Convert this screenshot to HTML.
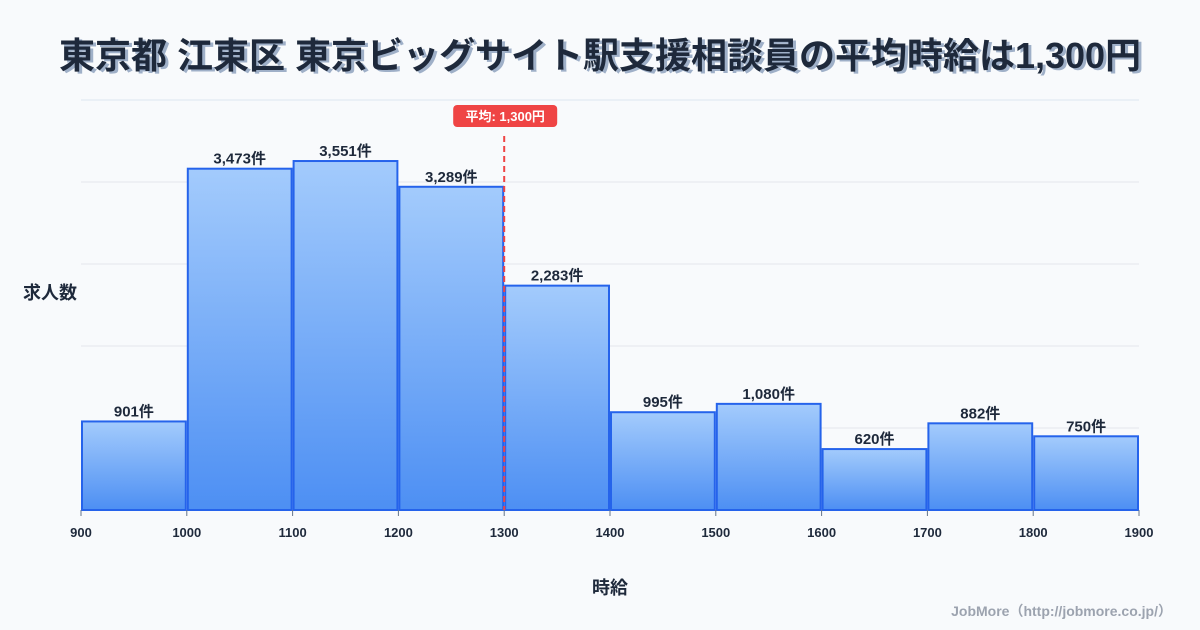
<!DOCTYPE html>
<html><head><meta charset="utf-8">
<style>
html,body{margin:0;padding:0;background:#f8fafc;}
svg{display:block;font-family:"Liberation Sans","Noto Sans CJK JP",sans-serif;}
</style></head>
<body>
<svg id="chart" width="1200" height="630" viewBox="0 0 1200 630" xmlns="http://www.w3.org/2000/svg">
<defs>
<linearGradient id="barGrad" x1="0" y1="0" x2="0" y2="1">
<stop offset="0" stop-color="#a3cbfc"/>
<stop offset="1" stop-color="#4d8ff3"/>
</linearGradient>
</defs>
<rect width="1200" height="630" fill="#f8fafc"/>
<text x="603" y="70" text-anchor="middle" font-size="36" font-weight="bold" fill="#9fb0c8">東京都 江東区 東京ビッグサイト駅支援相談員の平均時給は1,300円</text>
<text x="600" y="68" text-anchor="middle" font-size="36" font-weight="bold" fill="#1e293b">東京都 江東区 東京ビッグサイト駅支援相談員の平均時給は1,300円</text>
<text x="50" y="299" text-anchor="middle" font-size="18" font-weight="bold" fill="#1e293b">求人数</text>
<text x="610" y="594" text-anchor="middle" font-size="18" font-weight="bold" fill="#1e293b">時給</text>
<text x="1172" y="616" text-anchor="end" font-size="14" font-weight="bold" fill="#9ca3af">JobMore（http://jobmore.co.jp/）</text>
<g id="grid"></g><g id="bars"></g><g id="ticks"></g><g id="mean"></g>
</svg>
<script>
const binStarts = [900,1000,1100,1200,1300,1400,1500,1600,1700,1800];
const counts = [901,3473,3551,3289,2283,995,1080,620,882,750];
const tickLabels = ["900","1000","1100","1200","1300","1400","1500","1600","1700","1800","1900"];
const meanValue = 1300;
const meanLabel = "平均: 1,300円";
const yMax = 4172;
const gridCount = 5;

const NS = "http://www.w3.org/2000/svg";
const L = 81, R = 1139, T = 100, B = 510;
const xMin = 900, xMaxV = 1900;
const xs = v => L + (v - xMin) / (xMaxV - xMin) * (R - L);
const ys = v => B - v / yMax * (B - T);
function mk(tag, attrs, parent){const e=document.createElementNS(NS,tag);for(const k in attrs)e.setAttribute(k,attrs[k]);parent.appendChild(e);return e;}
const grid=document.getElementById('grid'),bars=document.getElementById('bars'),ticks=document.getElementById('ticks'),mean=document.getElementById('mean');

for(let i=1;i<=gridCount;i++){
  const y=ys(yMax*i/gridCount);
  const g=mk('line',{x1:L,x2:R,y1:y,y2:y,stroke:i===gridCount?'#dbe5ef':'#e5e7eb','stroke-width':1},grid);
  
  
}
const base=mk('line',{x1:L,x2:R,y1:B,y2:B,stroke:'#cbd5e1','stroke-width':1},grid);



counts.forEach((c,i)=>{
  const x0=xs(binStarts[i]), x1=xs(binStarts[i]+100), y=ys(c);
  const r=mk('rect',{x:x0+1,y:y,width:x1-x0-2,height:B-y,fill:'url(#barGrad)',stroke:'#2563eb','stroke-width':2},bars);
  
  
  const t=mk('text',{x:(x0+x1)/2,y:y-5,'text-anchor':'middle','font-size':15,'font-weight':'bold',fill:'#1e293b'},bars);
  t.textContent=c.toLocaleString('en-US')+'件';
  
  
});

tickLabels.forEach((lab)=>{
  const x=xs(+lab);
  const tk=mk('line',{x1:x,x2:x,y1:B,y2:B+6,stroke:'#64748b','stroke-width':1},ticks);
  
  
  const t=mk('text',{x:x,y:B+27,'text-anchor':'middle','font-size':13,'font-weight':'bold',fill:'#1e293b'},ticks);
  t.textContent=lab;
  
  
});

const mx=xs(meanValue);
const ml=mk('line',{x1:mx,x2:mx,y1:136,y2:B,stroke:'#ef4444','stroke-width':2,'stroke-dasharray':'6,4'},mean);


const mb=mk('rect',{x:mx-51,y:105,width:104,height:22,rx:4,fill:'#ef4444'},mean);


const mt=mk('text',{x:mx+1,y:121,'text-anchor':'middle','font-size':13,'font-weight':'bold',fill:'#ffffff'},mean);
mt.textContent=meanLabel;


</script>
</body></html>
